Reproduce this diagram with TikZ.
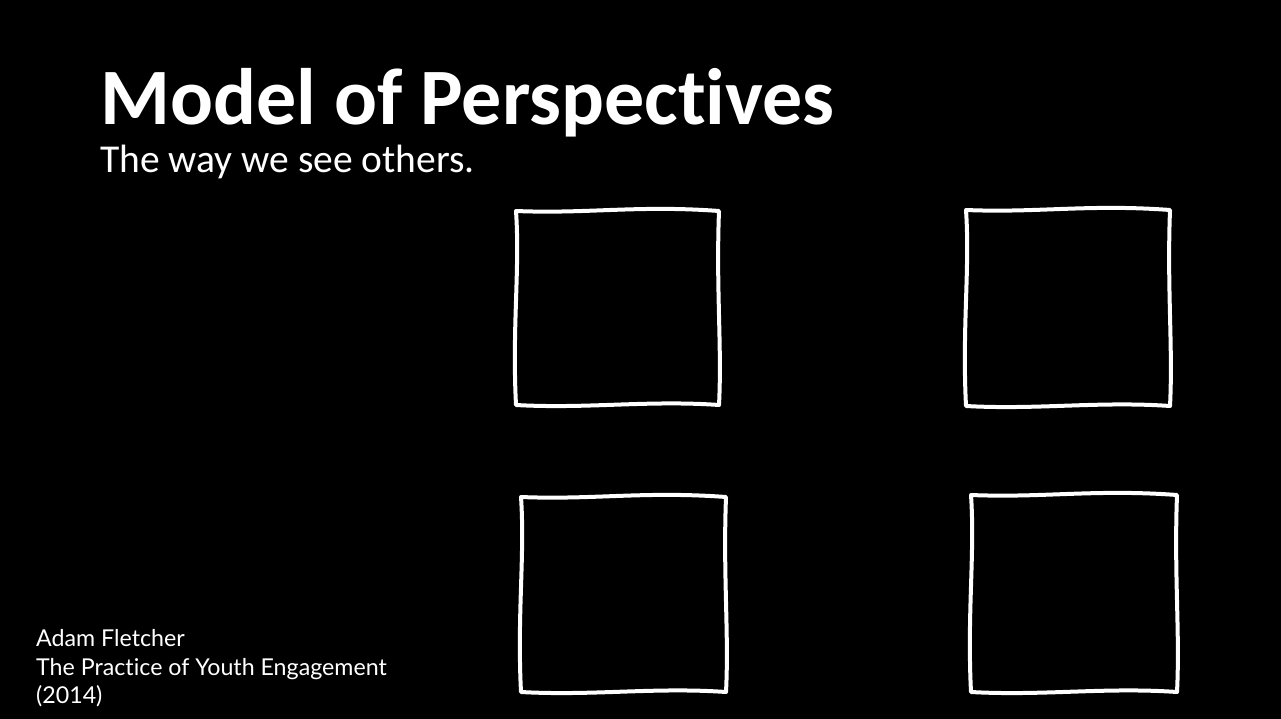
\documentclass[tikz,border=0pt]{standalone}
\usepackage{fontspec}
\setmainfont[Ligatures=CommonOff]{Carlito}
\newfontfamily\notefont[Ligatures=CommonOff]{Lato}
\tikzset{
  sketch/.style={draw=white, line width=4pt, line join=round, line cap=round},
  ttl/.style={anchor=base west, inner sep=0, text=white, font=\bfseries\fontsize{80}{84}\selectfont},
  sub/.style={anchor=base west, inner sep=0, text=white, font=\fontsize{39.5}{44}\selectfont},
  note/.style={anchor=base west, inner sep=0, text=white, font=\notefont\fontsize{23.2}{26}\selectfont}
}
% hand drawn box: name, left, top, right, bottom
\newcommand{\sketchbox}[5]{%
  \coordinate (#1-nw) at (#2,#3);
  \coordinate (#1-ne) at (#4,#3);
  \coordinate (#1-se) at (#4,#5);
  \coordinate (#1-sw) at (#2,#5);
  \draw[sketch] (#1-nw) .. controls ($(#1-nw)!.35!(#1-ne)+(0,3)$) and ($(#1-nw)!.6!(#1-ne)+(0,-6)$) .. (#1-ne)
    .. controls ($(#1-ne)!.4!(#1-se)+(-3,0)$) and ($(#1-ne)!.7!(#1-se)+(3,0)$) .. (#1-se)
    .. controls ($(#1-se)!.35!(#1-sw)+(0,-5)$) and ($(#1-se)!.65!(#1-sw)+(0,4)$) .. (#1-sw)
    .. controls ($(#1-sw)!.4!(#1-nw)+(-4,0)$) and ($(#1-sw)!.7!(#1-nw)+(4,0)$) .. cycle;}
\usetikzlibrary{calc}
\begin{document}
\begin{tikzpicture}[x=1pt, y=-1pt]
\fill[black] (0,0) rectangle (1281,719);
\useasboundingbox (0,0) rectangle (1281,719);
\node[ttl] (title) at (100,125) {Model of Perspectives};
\node[sub] (subtitle) at (100,173) {The way we see others.};
\node[note] (author) at (36,646) {Adam Fletcher};
\node[note] (book) at (36,675) {The Practice of Youth Engagement};
\node[note] (year) at (36,703) {(2014)};
\sketchbox{a}{516}{211}{719}{405}
\sketchbox{b}{966}{210}{1170}{406}
\sketchbox{c}{521}{497}{726}{692}
\sketchbox{d}{971}{495}{1177}{692}
\end{tikzpicture}
\end{document}
